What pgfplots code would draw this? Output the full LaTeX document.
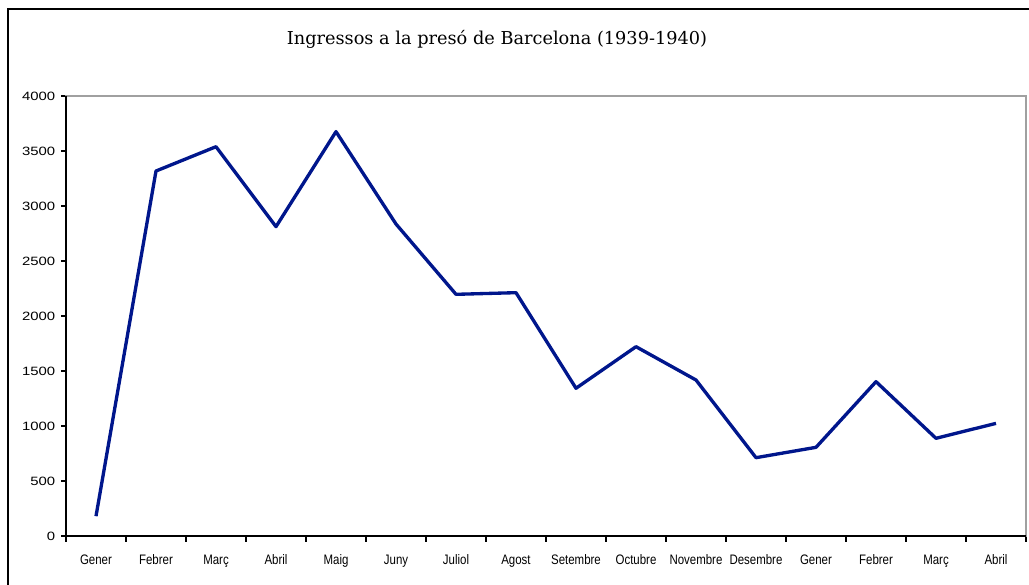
\documentclass[border=0pt]{standalone}
\usepackage{fontspec}
\setmainfont{Liberation Sans}
\newfontfamily\titlefont{DejaVu Serif}
\usepackage{pgfplots}
\pgfplotsset{compat=1.18}
\definecolor{lineblue}{RGB}{0,22,140}
\definecolor{bordergray}{RGB}{160,160,160}
\newcommand\xl[1]{\scalebox{1}[1.2]{#1}}
\begin{document}
\begin{tikzpicture}
\useasboundingbox (0,0) rectangle (771.75pt,438.75pt);
\draw[line width=1.5pt,black] (6pt,-2pt) -- (6pt,432pt) -- (775pt,432pt);
\node[anchor=base,font=\titlefont\fontsize{13.3pt}{15pt}\selectfont] at (372.75pt,405pt) {Ingressos a la presó de Barcelona (1939-1940)};
\begin{axis}[
  at={(49.5pt,36.75pt)}, anchor=south west,
  scale only axis, width=720pt, height=330pt,
  xmin=-0.5, xmax=15.5, ymin=0, ymax=4000,
  axis line style={bordergray,line width=1pt},
  xtick={0,...,15},
  xticklabels={\xl{Gener},\xl{Febrer},\xl{Març},\xl{Abril},\xl{Maig},\xl{Juny},\xl{Juliol},\xl{Agost},\xl{Setembre},\xl{Octubre},\xl{Novembre},\xl{Desembre},\xl{Gener},\xl{Febrer},\xl{Març},\xl{Abril}},
  major x tick style={draw=none},
  minor xtick={-0.5,0.5,...,15.5},
  minor x tick style={black,line width=0.9pt},
  minor tick length=4.5pt,
  ytick={0,500,...,4000},
  yticklabel={\scalebox{1.3}[1.05]{\pgfmathprintnumber{\tick}}},
  major y tick style={black,line width=0.9pt},
  major tick length=3.5pt,
  tick align=outside,
  tick pos=left,
  /pgf/number format/1000 sep={},
  /pgf/number format/assume math mode=true,
  xticklabel style={font=\fontsize{8.6pt}{10pt}\selectfont, yshift=-7pt},
  yticklabel style={font=\fontsize{8.6pt}{10pt}\selectfont, xshift=-1pt},
  clip=false,
]
\addplot[lineblue, line width=2.5pt, line join=round] coordinates {
(0,180) (1,3318) (2,3539) (3,2812) (4,3676) (5,2836) (6,2197) (7,2212)
(8,1343) (9,1721) (10,1418) (11,712) (12,806) (13,1403) (14,888) (15,1024)
};
\draw[black,line width=1pt] (rel axis cs:0,1) -- (rel axis cs:0,0) -- (rel axis cs:1,0);
\end{axis}
\end{tikzpicture}
\end{document}
